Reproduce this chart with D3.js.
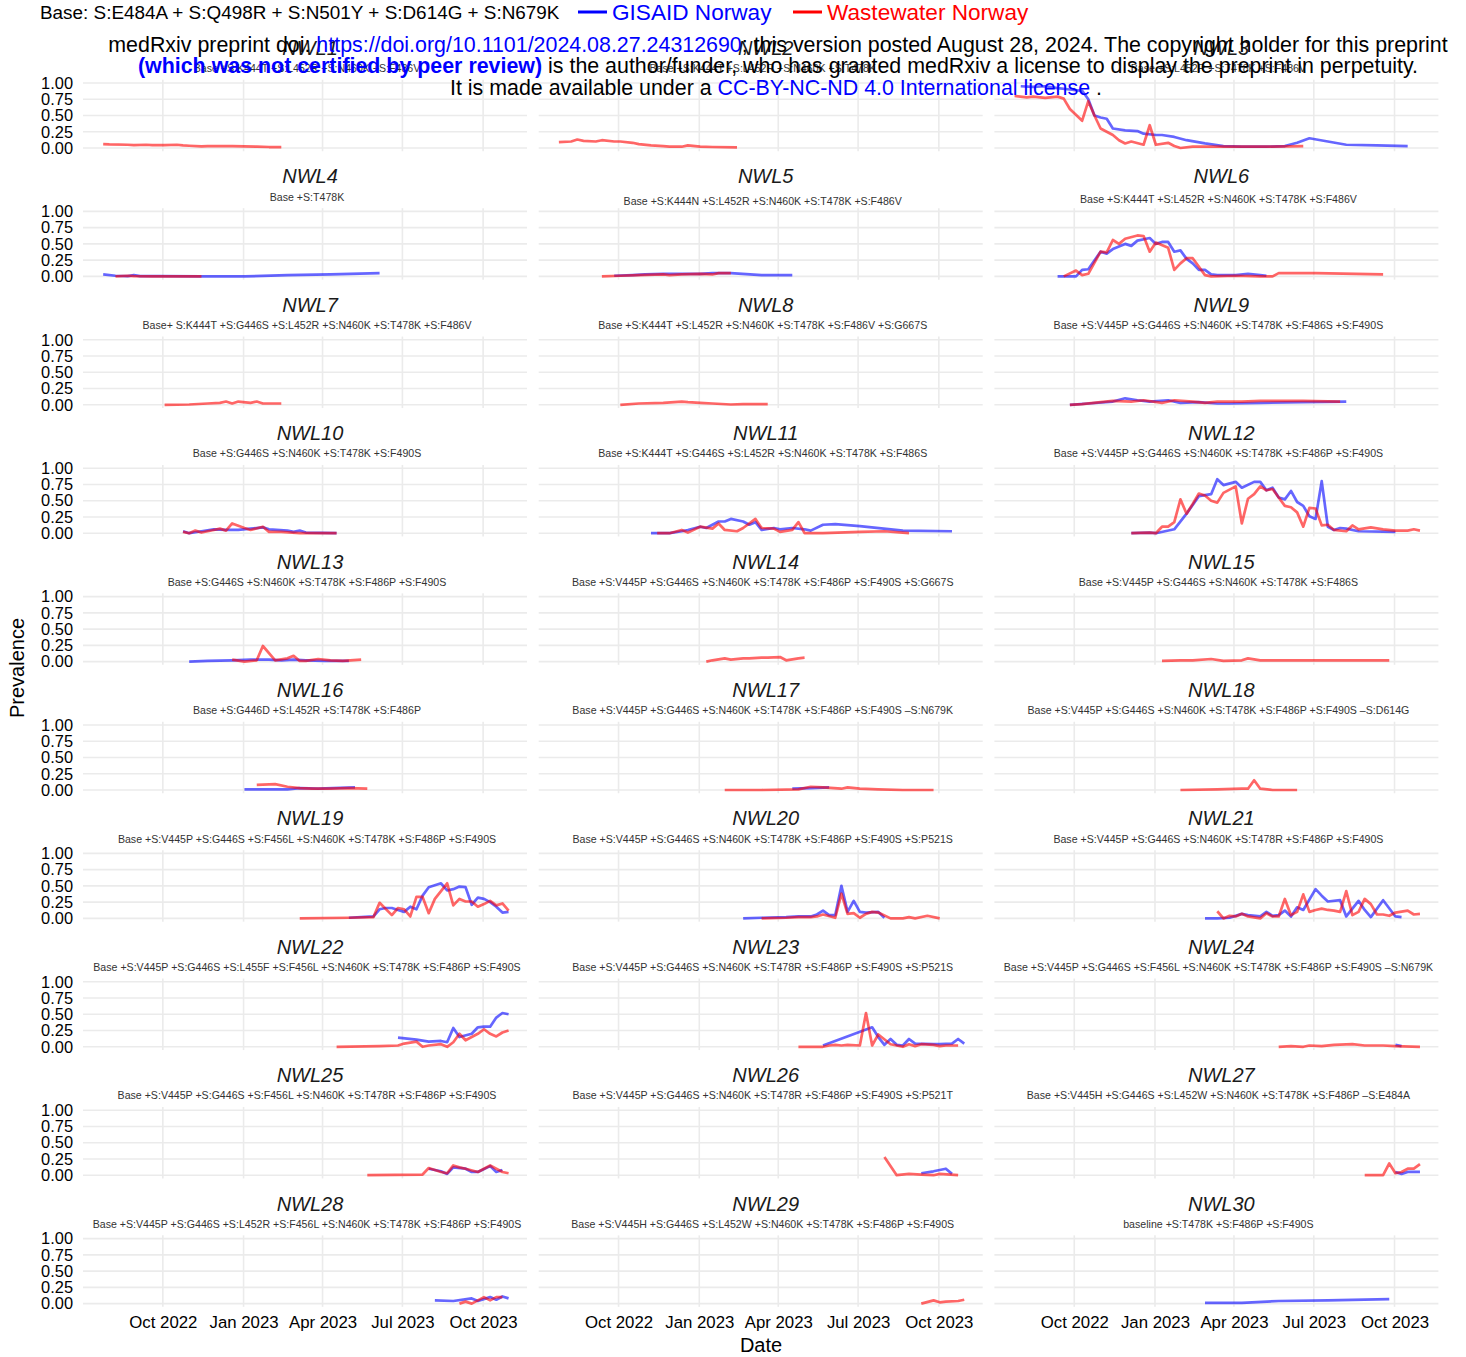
<!DOCTYPE html>
<html><head><meta charset="utf-8">
<script src="https://cdn.jsdelivr.net/npm/d3@7"></script>
<style>body{margin:0;background:#fff}svg{display:block}</style>
</head><body><svg id="c" width="1466" height="1357"></svg>
<script>
const panels = ["NWL1","NWL2","NWL3","NWL4","NWL5","NWL6","NWL7","NWL8","NWL9","NWL10","NWL11","NWL12","NWL13","NWL14","NWL15","NWL16","NWL17","NWL18","NWL19","NWL20","NWL21","NWL22","NWL23","NWL24","NWL25","NWL26","NWL27","NWL28","NWL29","NWL30"];
const subtitles = [
"Base +S:K444T +S:L452R +S:N460K +S:F486V",
"Base +S:K444T +S:L452R +S:N460K +S:T478K",
"Base +S:L452R +S:T478K +S:F486V",
"Base +S:T478K",
"Base +S:K444N +S:L452R +S:N460K +S:T478K +S:F486V",
"Base +S:K444T +S:L452R +S:N460K +S:T478K +S:F486V",
"Base+ S:K444T +S:G446S +S:L452R +S:N460K +S:T478K +S:F486V",
"Base +S:K444T +S:L452R +S:N460K +S:T478K +S:F486V +S:G667S",
"Base +S:V445P +S:G446S +S:N460K +S:T478K +S:F486S +S:F490S",
"Base +S:G446S +S:N460K +S:T478K +S:F490S",
"Base +S:K444T +S:G446S +S:L452R +S:N460K +S:T478K +S:F486S",
"Base +S:V445P +S:G446S +S:N460K +S:T478K +S:F486P +S:F490S",
"Base +S:G446S +S:N460K +S:T478K +S:F486P +S:F490S",
"Base +S:V445P +S:G446S +S:N460K +S:T478K +S:F486P +S:F490S +S:G667S",
"Base +S:V445P +S:G446S +S:N460K +S:T478K +S:F486S",
"Base +S:G446D +S:L452R +S:T478K +S:F486P",
"Base +S:V445P +S:G446S +S:N460K +S:T478K +S:F486P +S:F490S \u2013S:N679K",
"Base +S:V445P +S:G446S +S:N460K +S:T478K +S:F486P +S:F490S \u2013S:D614G",
"Base +S:V445P +S:G446S +S:F456L +S:N460K +S:T478K +S:F486P +S:F490S",
"Base +S:V445P +S:G446S +S:N460K +S:T478K +S:F486P +S:F490S +S:P521S",
"Base +S:V445P +S:G446S +S:N460K +S:T478R +S:F486P +S:F490S",
"Base +S:V445P +S:G446S +S:L455F +S:F456L +S:N460K +S:T478K +S:F486P +S:F490S",
"Base +S:V445P +S:G446S +S:N460K +S:T478R +S:F486P +S:F490S +S:P521S",
"Base +S:V445P +S:G446S +S:F456L +S:N460K +S:T478K +S:F486P +S:F490S \u2013S:N679K",
"Base +S:V445P +S:G446S +S:F456L +S:N460K +S:T478R +S:F486P +S:F490S",
"Base +S:V445P +S:G446S +S:N460K +S:T478R +S:F486P +S:F490S +S:P521T",
"Base +S:V445H +S:G446S +S:L452W +S:N460K +S:T478K +S:F486P \u2013S:E484A",
"Base +S:V445P +S:G446S +S:L452R +S:F456L +S:N460K +S:T478K +S:F486P +S:F490S",
"Base +S:V445H +S:G446S +S:L452W +S:N460K +S:T478K +S:F486P +S:F490S",
"baseline +S:T478K +S:F486P +S:F490S"];

const gisaidNorway = [
/*NWL1*/ [],
/*NWL2*/ [],
/*NWL3*/ [["2022-W31",.95],["2022-W33",.94],["2022-W35",.95],["2022-W37",.92],["2022-W39",.9],["2022-W41",.88],["2022-W42",.75],["2022-W43",.5],["2022-W44",.47],["2022-W45",.45],["2022-W46",.3],["2022-W48",.27],["2022-W50",.26],["2022-W51",.22],["2023-W01",.2],["2023-W02",.2],["2023-W04",.17],["2023-W06",.12],["2023-W09",.07],["2023-W12",.03],["2023-W15",.02],["2023-W19",.02],["2023-W22",.03],["2023-W24",.08],["2023-W26",.15],["2023-W29",.1],["2023-W32",.05],["2023-W37",.04],["2023-W42",.03]],
/*NWL4*/ [["2022-W30",.03],["2022-W32",.01],["2022-W34",.005],["2022-W35",.02],["2022-W36",.005],["2022-W39",.005],["2022-W46",0],["2023-W01",0],["2023-W08",.02],["2023-W15",.03],["2023-W23",.05]],
/*NWL5*/ [["2022-W39",.01],["2022-W42",.02],["2022-W44",.03],["2022-W47",.04],["2022-W50",.04],["2023-W01",.04],["2023-W03",.05],["2023-W06",.05],["2023-W11",.02],["2023-W16",.02]],
/*NWL6*/ [["2022-W37",0],["2022-W40",0],["2022-W41",.1],["2022-W42",.11],["2022-W44",.38],["2022-W45",.35],["2022-W46",.42],["2022-W48",.5],["2022-W49",.47],["2022-W50",.55],["2022-W52",.59],["2023-W01",.5],["2023-W02",.53],["2023-W03",.53],["2023-W04",.38],["2023-W05",.4],["2023-W06",.27],["2023-W07",.2],["2023-W08",.1],["2023-W09",.1],["2023-W10",.03],["2023-W11",.02],["2023-W14",.02],["2023-W16",.04],["2023-W18",.02],["2023-W19",.01]],
/*NWL7*/ [],
/*NWL8*/ [],
/*NWL9*/ [["2022-W39",0],["2022-W42",.02],["2022-W46",.05],["2022-W48",.1],["2022-W50",.07],["2022-W52",.05],["2023-W03",.07],["2023-W05",.03],["2023-W08",.04],["2023-W11",.02],["2023-W13",.02],["2023-W18",.03],["2023-W25",.04],["2023-W32",.05]],
/*NWL10*/ [["2022-W43",.03],["2022-W44",0],["2022-W46",.03],["2022-W48",.06],["2022-W50",.05],["2022-W52",.05],["2023-W02",.07],["2023-W04",.09],["2023-W05",.06],["2023-W08",.04],["2023-W09",.02],["2023-W10",.04],["2023-W11",.01],["2023-W16",0]],
/*NWL11*/ [["2022-W45",0],["2022-W48",0],["2022-W50",.03],["2022-W51",.05],["2023-W01",.1],["2023-W02",.08],["2023-W04",.18],["2023-W05",.18],["2023-W06",.22],["2023-W08",.18],["2023-W09",.13],["2023-W10",.17],["2023-W11",.05],["2023-W13",.08],["2023-W14",.06],["2023-W16",.08],["2023-W18",.06],["2023-W19",.04],["2023-W21",.13],["2023-W23",.14],["2023-W27",.11],["2023-W34",.04],["2023-W42",.03]],
/*NWL12*/ [["2022-W49",0],["2022-W52",.01],["2023-W01",0],["2023-W04",.06],["2023-W06",.3],["2023-W08",.57],["2023-W10",.6],["2023-W11",.83],["2023-W12",.74],["2023-W14",.79],["2023-W15",.7],["2023-W17",.79],["2023-W18",.79],["2023-W19",.66],["2023-W20",.7],["2023-W21",.55],["2023-W22",.52],["2023-W23",.65],["2023-W24",.48],["2023-W25",.42],["2023-W26",.26],["2023-W27",.22],["2023-W28",.8],["2023-W29",.1],["2023-W30",.05],["2023-W31",.08],["2023-W32",.07],["2023-W34",.03],["2023-W40",.02]],
/*NWL13*/ [["2022-W44",0],["2022-W47",.01],["2022-W51",.02],["2023-W02",.03],["2023-W05",.03],["2023-W07",.02],["2023-W09",.03],["2023-W11",.02],["2023-W14",.01],["2023-W18",.01]],
/*NWL14*/ [],
/*NWL15*/ [],
/*NWL16*/ [["2023-W01",.01],["2023-W08",.01],["2023-W10",.03],["2023-W13",.02],["2023-W19",.04]],
/*NWL17*/ [["2023-W16",.02],["2023-W19",.03],["2023-W22",.04]],
/*NWL18*/ [],
/*NWL19*/ [["2023-W18",.01],["2023-W22",.03],["2023-W23",.14],["2023-W24",.16],["2023-W25",.16],["2023-W26",.13],["2023-W27",.1],["2023-W28",.18],["2023-W29",.14],["2023-W30",.35],["2023-W31",.48],["2023-W33",.54],["2023-W34",.43],["2023-W35",.45],["2023-W36",.49],["2023-W37",.48],["2023-W38",.21],["2023-W39",.32],["2023-W40",.3],["2023-W41",.25],["2023-W42",.18],["2023-W43",.09],["2023-W44",.1]],
/*NWL20*/ [["2023-W08",0],["2023-W11",.01],["2023-W15",.02],["2023-W17",.03],["2023-W19",.03],["2023-W20",.06],["2023-W21",.12],["2023-W22",.05],["2023-W23",.05],["2023-W24",.5],["2023-W25",.1],["2023-W26",.27],["2023-W27",.1],["2023-W28",.09],["2023-W30",.1],["2023-W31",.01]],
/*NWL21*/ [["2023-W09",0],["2023-W11",0],["2023-W13",.01],["2023-W15",.07],["2023-W16",.05],["2023-W18",.03],["2023-W19",.1],["2023-W20",.04],["2023-W21",.05],["2023-W22",.12],["2023-W23",.03],["2023-W24",.17],["2023-W25",.13],["2023-W27",.45],["2023-W28",.35],["2023-W29",.26],["2023-W31",.28],["2023-W32",.03],["2023-W34",.27],["2023-W35",.13],["2023-W36",.02],["2023-W38",.28],["2023-W40",.03],["2023-W41",.02]],
/*NWL22*/ [["2023-W26",.14],["2023-W29",.11],["2023-W31",.08],["2023-W33",.09],["2023-W34",.07],["2023-W35",.29],["2023-W36",.15],["2023-W38",.2],["2023-W39",.3],["2023-W40",.31],["2023-W41",.31],["2023-W42",.45],["2023-W43",.52],["2023-W44",.5]],
/*NWL23*/ [["2023-W21",.02],["2023-W29",.3],["2023-W30",.15],["2023-W31",.03],["2023-W32",.12],["2023-W33",.03],["2023-W34",.02],["2023-W35",.12],["2023-W36",.05],["2023-W39",.04],["2023-W40",.04],["2023-W42",.05],["2023-W43",.12],["2023-W44",.05]],
/*NWL24*/ [["2023-W40",.03],["2023-W41",.01]],
/*NWL25*/ [["2023-W31",.1],["2023-W33",.06],["2023-W34",.02],["2023-W35",.12],["2023-W37",.1],["2023-W38",.05],["2023-W39",.05],["2023-W41",.14],["2023-W42",.05],["2023-W43",.08]],
/*NWL26*/ [["2023-W37",.03],["2023-W39",.06],["2023-W41",.1],["2023-W42",.02]],
/*NWL27*/ [["2023-W40",.05],["2023-W41",.02],["2023-W42",.05],["2023-W44",.05]],
/*NWL28*/ [["2023-W32",.05],["2023-W35",.04],["2023-W38",.08],["2023-W39",.04],["2023-W41",.1],["2023-W42",.06],["2023-W43",.11],["2023-W44",.08]],
/*NWL29*/ [],
/*NWL30*/ [["2023-W09",.01],["2023-W15",.01],["2023-W21",.04],["2023-W29",.05],["2023-W39",.07]]
];

const wastewaterNorway = [
/*NWL1*/ [["2022-W30",.06],["2022-W31",.055],["2022-W34",.05],["2022-W35",.045],["2022-W37",.05],["2022-W38",.045],["2022-W40",.045],["2022-W42",.05],["2022-W43",.04],["2022-W44",.035],["2022-W46",.025],["2022-W47",.03],["2022-W49",.03],["2022-W51",.03],["2023-W01",.025],["2023-W03",.02],["2023-W05",.015],["2023-W07",.015]],
/*NWL2*/ [["2022-W30",.09],["2022-W32",.1],["2022-W33",.13],["2022-W34",.11],["2022-W36",.1],["2022-W37",.12],["2022-W39",.1],["2022-W40",.1],["2022-W42",.08],["2022-W43",.06],["2022-W45",.04],["2022-W47",.03],["2022-W48",.02],["2022-W50",.02],["2022-W51",.04],["2023-W01",.02],["2023-W03",.015],["2023-W07",.01]],
/*NWL3*/ [["2022-W30",.8],["2022-W32",.78],["2022-W33",.79],["2022-W35",.77],["2022-W37",.79],["2022-W38",.76],["2022-W39",.6],["2022-W41",.42],["2022-W42",.72],["2022-W43",.5],["2022-W44",.3],["2022-W46",.2],["2022-W47",.12],["2022-W48",.07],["2022-W49",.1],["2022-W51",.05],["2022-W52",.35],["2023-W01",.05],["2023-W03",.08],["2023-W04",.03],["2023-W05",0],["2023-W07",.02],["2023-W11",.02],["2023-W15",.02],["2023-W20",.02],["2023-W25",.03]],
/*NWL4*/ [["2022-W32",0],["2022-W34",.01],["2022-W35",.005],["2022-W38",0],["2022-W46",0]],
/*NWL5*/ [["2022-W37",0],["2022-W40",.01],["2022-W43",.02],["2022-W47",.03],["2022-W48",.02],["2022-W50",.03],["2023-W01",.04],["2023-W03",.03],["2023-W04",.05],["2023-W06",.05]],
/*NWL6*/ [["2022-W38",0],["2022-W40",.09],["2022-W41",.02],["2022-W42",.04],["2022-W44",.38],["2022-W45",.37],["2022-W46",.56],["2022-W47",.5],["2022-W48",.58],["2022-W50",.63],["2022-W51",.62],["2022-W52",.38],["2023-W01",.52],["2023-W03",.44],["2023-W04",.1],["2023-W05",.2],["2023-W06",.28],["2023-W07",.28],["2023-W09",.02],["2023-W10",0],["2023-W14",.01],["2023-W18",0],["2023-W20",0],["2023-W21",.05],["2023-W27",.05],["2023-W38",.03]],
/*NWL7*/ [["2022-W40",0],["2022-W44",.005],["2022-W47",.02],["2022-W49",.03],["2022-W50",.05],["2022-W51",.02],["2022-W52",.05],["2023-W02",.03],["2023-W03",.05],["2023-W04",.02],["2023-W05",.02],["2023-W07",.02]],
/*NWL8*/ [["2022-W40",0],["2022-W43",.02],["2022-W47",.03],["2022-W50",.05],["2022-W51",.04],["2023-W01",.03],["2023-W03",.02],["2023-W06",.005],["2023-W08",.01],["2023-W12",.01]],
/*NWL9*/ [["2022-W39",0],["2022-W41",.01],["2022-W44",.04],["2022-W46",.06],["2022-W49",.05],["2022-W51",.07],["2023-W02",.03],["2023-W04",.07],["2023-W07",.05],["2023-W09",.03],["2023-W11",.05],["2023-W15",.05],["2023-W18",.06],["2023-W25",.06],["2023-W31",.05]],
/*NWL10*/ [["2022-W43",.02],["2022-W44",0],["2022-W45",.04],["2022-W46",.01],["2022-W48",.05],["2022-W49",.07],["2022-W50",.04],["2022-W51",.15],["2023-W01",.08],["2023-W02",.05],["2023-W04",.1],["2023-W05",.02],["2023-W07",.02],["2023-W10",0],["2023-W16",0]],
/*NWL11*/ [["2022-W46",0],["2022-W48",0],["2022-W50",.05],["2022-W51",.01],["2023-W01",.1],["2023-W03",.07],["2023-W04",.15],["2023-W05",.05],["2023-W07",.03],["2023-W08",.08],["2023-W10",.22],["2023-W11",.08],["2023-W13",.07],["2023-W14",.02],["2023-W16",.05],["2023-W17",.17],["2023-W18",0],["2023-W21",0],["2023-W27",.02],["2023-W31",.03],["2023-W35",0]],
/*NWL12*/ [["2022-W49",0],["2022-W52",.01],["2023-W01",0],["2023-W02",.1],["2023-W03",.1],["2023-W04",.17],["2023-W05",.52],["2023-W06",.3],["2023-W07",.45],["2023-W08",.61],["2023-W09",.58],["2023-W10",.5],["2023-W11",.47],["2023-W12",.62],["2023-W14",.72],["2023-W15",.15],["2023-W16",.53],["2023-W17",.6],["2023-W18",.72],["2023-W19",.66],["2023-W20",.68],["2023-W21",.55],["2023-W22",.42],["2023-W23",.4],["2023-W24",.32],["2023-W25",.1],["2023-W26",.39],["2023-W27",.38],["2023-W28",.12],["2023-W29",.13],["2023-W30",.05],["2023-W32",.03],["2023-W33",.12],["2023-W34",.06],["2023-W36",.09],["2023-W38",.06],["2023-W40",.04],["2023-W42",.04],["2023-W43",.06],["2023-W44",.04]],
/*NWL13*/ [["2022-W51",.03],["2023-W01",0],["2023-W03",.02],["2023-W04",.24],["2023-W06",.02],["2023-W08",.05],["2023-W09",.09],["2023-W10",.01],["2023-W11",.01],["2023-W13",.04],["2023-W15",.02],["2023-W17",.01],["2023-W20",.03]],
/*NWL14*/ [["2023-W02",0],["2023-W03",.02],["2023-W05",.05],["2023-W06",.03],["2023-W08",.05],["2023-W09",.05],["2023-W11",.06],["2023-W12",.06],["2023-W14",.07],["2023-W15",.02],["2023-W17",.05],["2023-W18",.06]],
/*NWL15*/ [["2023-W02",.01],["2023-W05",.02],["2023-W07",.02],["2023-W10",.04],["2023-W12",.01],["2023-W15",.02],["2023-W16",.05],["2023-W18",.02],["2023-W23",.02],["2023-W28",.02],["2023-W39",.02]],
/*NWL16*/ [["2023-W03",.08],["2023-W06",.09],["2023-W08",.05],["2023-W10",.03],["2023-W12",.02],["2023-W15",.02],["2023-W18",.03],["2023-W21",.02]],
/*NWL17*/ [["2023-W05",0],["2023-W11",0],["2023-W17",.01],["2023-W19",.05],["2023-W21",.04],["2023-W24",.02],["2023-W25",.04],["2023-W27",.02],["2023-W30",.01],["2023-W34",0],["2023-W39",0]],
/*NWL18*/ [["2023-W05",0],["2023-W11",.01],["2023-W15",.02],["2023-W16",.02],["2023-W17",.15],["2023-W18",.02],["2023-W20",0],["2023-W24",0]],
/*NWL19*/ [["2023-W10",0],["2023-W18",.01],["2023-W22",.02],["2023-W23",.24],["2023-W25",.05],["2023-W26",.16],["2023-W27",.14],["2023-W28",.03],["2023-W29",.33],["2023-W30",.33],["2023-W31",.08],["2023-W32",.3],["2023-W34",.54],["2023-W35",.2],["2023-W36",.3],["2023-W37",.26],["2023-W38",.26],["2023-W39",.18],["2023-W40",.22],["2023-W41",.27],["2023-W42",.2],["2023-W43",.23],["2023-W44",.12]],
/*NWL20*/ [["2023-W11",0],["2023-W15",.01],["2023-W17",.02],["2023-W19",.02],["2023-W20",.03],["2023-W21",.06],["2023-W23",.01],["2023-W24",.38],["2023-W25",.07],["2023-W26",.08],["2023-W27",.01],["2023-W28",.07],["2023-W29",.1],["2023-W30",.09],["2023-W32",0],["2023-W34",0],["2023-W35",.02],["2023-W36",0],["2023-W38",.04],["2023-W40",0]],
/*NWL21*/ [["2023-W11",.11],["2023-W12",0],["2023-W13",.04],["2023-W14",.03],["2023-W15",.07],["2023-W16",.03],["2023-W18",0],["2023-W19",.08],["2023-W20",.03],["2023-W21",.03],["2023-W22",.3],["2023-W23",.05],["2023-W24",.1],["2023-W25",.37],["2023-W26",.1],["2023-W27",.13],["2023-W28",.15],["2023-W29",.13],["2023-W30",.12],["2023-W31",.1],["2023-W32",.42],["2023-W33",.05],["2023-W34",.1],["2023-W35",.3],["2023-W36",.22],["2023-W37",.06],["2023-W38",.06],["2023-W39",.04],["2023-W40",.09],["2023-W42",.12],["2023-W43",.06],["2023-W44",.07]],
/*NWL22*/ [["2023-W16",0],["2023-W23",.01],["2023-W26",.02],["2023-W27",.05],["2023-W29",.08],["2023-W30",0],["2023-W31",.02],["2023-W33",.04],["2023-W34",0],["2023-W35",.07],["2023-W36",.2],["2023-W37",.1],["2023-W39",.2],["2023-W40",.27],["2023-W41",.2],["2023-W42",.16],["2023-W43",.22],["2023-W44",.25]],
/*NWL23*/ [["2023-W17",0],["2023-W21",0],["2023-W22",.02],["2023-W23",.03],["2023-W24",.02],["2023-W25",.03],["2023-W27",.02],["2023-W28",.52],["2023-W29",.02],["2023-W30",.19],["2023-W32",.04],["2023-W33",.02],["2023-W34",0],["2023-W35",.04],["2023-W36",.01],["2023-W37",.04],["2023-W39",.03],["2023-W40",.01],["2023-W41",.02],["2023-W43",.02]],
/*NWL24*/ [["2023-W21",0],["2023-W23",.01],["2023-W25",0],["2023-W26",.02],["2023-W28",.01],["2023-W30",.03],["2023-W33",.04],["2023-W35",.02],["2023-W38",.02],["2023-W40",.01],["2023-W44",0]],
/*NWL25*/ [["2023-W21",0],["2023-W30",.01],["2023-W31",.11],["2023-W33",.05],["2023-W34",.03],["2023-W35",.15],["2023-W36",.12],["2023-W37",.1],["2023-W39",.05],["2023-W40",.1],["2023-W41",.15],["2023-W42",.1],["2023-W43",.05],["2023-W44",.03]],
/*NWL26*/ [["2023-W31",.28],["2023-W33",0],["2023-W35",.02],["2023-W37",.01],["2023-W39",0],["2023-W40",.02],["2023-W43",0]],
/*NWL27*/ [["2023-W35",0],["2023-W38",0],["2023-W39",.18],["2023-W40",.03],["2023-W41",.05],["2023-W42",.1],["2023-W43",.1],["2023-W44",.17]],
/*NWL28*/ [["2023-W36",0],["2023-W37",.03],["2023-W38",0],["2023-W40",.1],["2023-W41",.05],["2023-W42",.1],["2023-W43",.1]],
/*NWL29*/ [["2023-W37",0],["2023-W39",.05],["2023-W40",.02],["2023-W41",.03],["2023-W43",.04],["2023-W44",.06]],
/*NWL30*/ []
];

const seriesNames = ["GISAID Norway","Wastewater Norway"];
const seriesColors = ["#0000ff","#ff0000"];
const legendTitle = "Base: S:E484A + S:Q498R + S:N501Y + S:D614G + S:N679K";
const yTicks = [0, 0.25, 0.5, 0.75, 1];
const xTicks = ["2022-10-01","2023-01-01","2023-04-01","2023-07-01","2023-10-01"];
const xTickLabels = ["Oct 2022","Jan 2023","Apr 2023","Jul 2023","Oct 2023"];
const dateLimits = ["2022-07-02","2023-11-20"];
const xTitle = "Date", yTitle = "Prevalence";

const FONT = "'Liberation Sans', Arial, Helvetica, sans-serif";
const parseWeek = s => {
  const [yy, ww] = s.split("-W").map(Number);
  const jan4 = Date.UTC(yy, 0, 4);
  const dow = (new Date(jan4).getUTCDay() + 6) % 7;
  return new Date(jan4 + ((ww - 1) * 7 - dow) * 864e5);
};
const parseDay = s => new Date(s + "T00:00:00Z");

const svg = d3.select("#c").attr("font-family", FONT);
const panelW = 444, panelH = 71.5;
const colLeft = [83, 538.7, 994.4];
const rowTop = r => 83 + 128.4 * r - 3.25;
const subDy = {NWL5: 4, NWL6: 2.5};

const x = d3.scaleUtc().domain(dateLimits.map(parseDay)).range([0, panelW]);
const y = d3.scaleLinear().domain([-0.05, 1.05]).range([panelH, 0]);
const line = d3.line().x(d => x(parseWeek(d[0]))).y(d => y(d[1]));

panels.forEach((name, i) => {
  const col = i % 3, row = Math.floor(i / 3);
  const g = svg.append("g").attr("transform", `translate(${colLeft[col]},${rowTop(row)})`);
  g.append("g").selectAll("line.h").data(yTicks).join("line")
    .attr("x1", 0).attr("x2", panelW).attr("y1", d => y(d)).attr("y2", d => y(d))
    .attr("stroke", "#ebebeb").attr("stroke-width", 1.6);
  g.append("g").selectAll("line.v").data(xTicks).join("line")
    .attr("x1", d => x(parseDay(d))).attr("x2", d => x(parseDay(d))).attr("y1", 0).attr("y2", panelH)
    .attr("stroke", "#ebebeb").attr("stroke-width", 1.6);
  [gisaidNorway[i], wastewaterNorway[i]].forEach((s, k) => {
    if (s.length) g.append("path").attr("d", line(s)).attr("fill", "none")
      .attr("stroke", seriesColors[k]).attr("stroke-opacity", 0.6).attr("stroke-width", 2.7)
      .attr("stroke-linejoin", "round").attr("stroke-linecap", "butt");
  });
  g.append("text").attr("x", panelW / 2 + 5).attr("y", -31.75).attr("dy", "0.35em")
    .attr("text-anchor", "middle").attr("font-size", 20).attr("font-style", "italic")
    .attr("fill", "#1a1a1a").text(name);
  g.append("text").attr("x", panelW / 2 + 2).attr("y", -11.25 + (subDy[name] || 0)).attr("dy", "0.35em")
    .attr("text-anchor", "middle").attr("font-size", 10.6).attr("fill", "#333").text(subtitles[i]);
  if (col === 0) {
    const ax = g.append("g").call(d3.axisLeft(y).tickValues(yTicks).tickFormat(d3.format(".2f")).tickSize(0).tickPadding(10));
    ax.select(".domain").remove();
    ax.selectAll("text").attr("font-size", 16.4).attr("fill", "#000").attr("font-family", FONT);
  }
  if (row === 9) {
    const ax = g.append("g").attr("transform", `translate(0,${panelH})`)
      .call(d3.axisBottom(x).tickValues(xTicks.map(parseDay)).tickFormat((d, j) => xTickLabels[j]).tickSize(0).tickPadding(9));
    ax.select(".domain").remove();
    ax.selectAll("text").attr("font-size", 16.8).attr("fill", "#000").attr("font-family", FONT);
  }
});

svg.append("text").attr("x", 761).attr("y", 1345).attr("dy", "0.35em").attr("text-anchor", "middle")
  .attr("font-size", 20).attr("fill", "#000").text(xTitle);
svg.append("text").attr("transform", "translate(17,668) rotate(-90)").attr("dy", "0.35em")
  .attr("text-anchor", "middle").attr("font-size", 20).attr("fill", "#000").text(yTitle);

// legend
const lg = svg.append("g");
lg.append("text").attr("x", 40).attr("y", 12).attr("dy", "0.35em").attr("font-size", 18.9).attr("fill", "#000").text(legendTitle);
const keyX = [578, 793];
seriesNames.forEach((n, k) => {
  lg.append("line").attr("x1", keyX[k]).attr("x2", keyX[k] + 29).attr("y1", 12).attr("y2", 12)
    .attr("stroke", seriesColors[k]).attr("stroke-width", 3);
  lg.append("text").attr("x", keyX[k] + 34).attr("y", 12).attr("dy", "0.35em").attr("font-size", 22.6)
    .attr("fill", seriesColors[k]).text(n);
});

// preprint overlay
const ov = svg.append("g").attr("font-size", 21.4).attr("text-anchor", "middle").attr("fill", "#000");
const l1 = ov.append("text").attr("x", 778).attr("y", 52);
l1.append("tspan").text("medRxiv preprint doi: ");
l1.append("tspan").attr("fill", "#0000ff").text("https://doi.org/10.1101/2024.08.27.24312690");
l1.append("tspan").text("; this version posted August 28, 2024. The copyright holder for this preprint");
const l2 = ov.append("text").attr("x", 778).attr("y", 73);
l2.append("tspan").attr("fill", "#0000ff").attr("font-weight", "bold").text("(which was not certified by peer review)");
l2.append("tspan").text(" is the author/funder, who has granted medRxiv a license to display the preprint in perpetuity.");
const l3 = ov.append("text").attr("x", 776).attr("y", 95);
l3.append("tspan").text("It is made available under a ");
l3.append("tspan").attr("fill", "#0000ff").text("CC-BY-NC-ND 4.0 International license");
l3.append("tspan").text(" .");
</script></body></html>
